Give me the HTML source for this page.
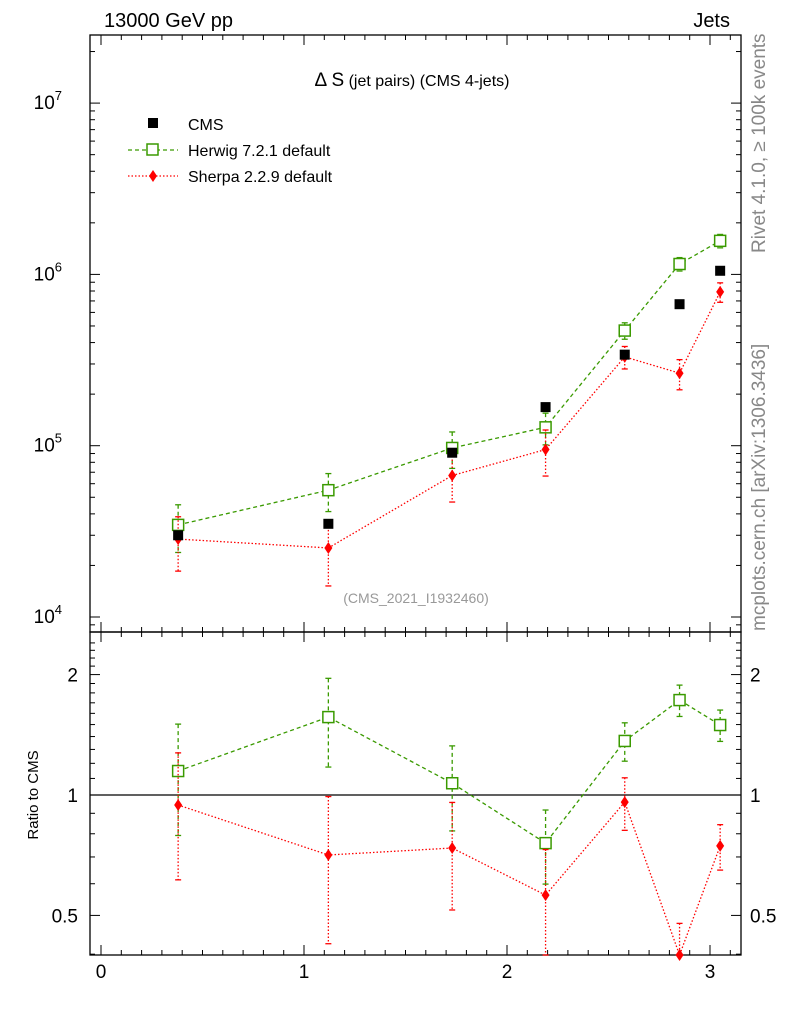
<!DOCTYPE html>
<html><head><meta charset="utf-8"><style>
body{margin:0;background:#fff;font-family:"Liberation Sans",sans-serif}
svg{display:block}
</style></head><body>
<svg id="s" width="786" height="1024" xmlns="http://www.w3.org/2000/svg" font-family="Liberation Sans, sans-serif"></svg>
<script>
const xs=[0.38,1.12,1.73,2.19,2.58,2.85,3.05];
const cmsVals=[3.0e4,3.5e4,9.1e4,1.68e5,3.4e5,6.7e5,1.05e6];
const herwigVals=[3.45e4,5.5e4,9.7e4,1.28e5,4.7e5,1.15e6,1.57e6];
const herwigRelErr=[0.31,0.25,0.24,0.21,0.11,0.09,0.09];
const sherpaVals=[2.85e4,2.53e4,6.7e4,9.5e4,3.3e5,2.65e5,7.9e5];
const sherpaRelErr=[0.35,0.4,0.3,0.3,0.15,0.2,0.13];
const herwigRatio=[1.148,1.566,1.07,0.758,1.365,1.727,1.496];
const sherpaRatio=[0.944,0.708,0.737,0.562,0.96,0.398,0.746];
const xTicks=[0,1,2,3];
const mainTicks=[4,5,6,7];
const ratioTicks=[0.5,1,2];

const S=document.getElementById('s');const NS='http://www.w3.org/2000/svg';
function el(t,a,txt){const e=document.createElementNS(NS,t);for(const k in a)e.setAttribute(k,a[k]);if(txt!==undefined)e.textContent=txt;S.appendChild(e);return e;}
const L=90,R=741,T=35,M=632,B=955;
const X=v=>101+v*203;
const Y=v=>617-(Math.log10(v)-4)*171.3;
const YR=v=>795-Math.log10(v)*400;

let f=el('rect',{x:L,y:T,width:R-L,height:M-T,fill:'none',stroke:'#000','stroke-width':1.3});

f=el('rect',{x:L,y:M,width:R-L,height:B-M,fill:'none',stroke:'#000','stroke-width':1.3});


for(let v=0;v<=3.2;v+=0.1){const x=X(v);if(x<L||x>R)continue;const major=Math.abs(v-Math.round(v))<1e-6;const len=major?10:5;
 [T,M].forEach(y0=>el('line',{x1:x,x2:x,y1:y0,y2:y0+len,stroke:'#000'}));
 [M,B].forEach(y0=>el('line',{x1:x,x2:x,y1:y0,y2:y0-len,stroke:'#000'}));}
xTicks.forEach(v=>{const t=el('text',{x:X(v),y:978,'font-size':19,'text-anchor':'middle'},String(v));});

for(let d=3;d<=7;d++)for(let m=1;m<10;m++){const v=m*Math.pow(10,d);const y=Y(v);if(y<T||y>M)continue;const len=m==1?10:5;
 el('line',{x1:L,x2:L+len,y1:y,y2:y,stroke:'#000'});el('line',{x1:R,x2:R-len,y1:y,y2:y,stroke:'#000'});}
mainTicks.forEach(p=>{const t=el('text',{x:62,y:Y(Math.pow(10,p))+6,'font-size':19,'text-anchor':'end'},'10');
 const s=el('tspan',{dy:-9,'font-size':13});s.textContent=p;t.appendChild(s);});

for(let v=0.4;v<=2.5;v+=0.1){const y=YR(v);if(y<M||y>B)continue;const maj=[0.5,1,2].some(q=>Math.abs(q-v)<1e-6);const len=maj?10:5;
 el('line',{x1:L,x2:L+len,y1:y,y2:y,stroke:'#000'});el('line',{x1:R,x2:R-len,y1:y,y2:y,stroke:'#000'});}
ratioTicks.forEach(v=>{let t=el('text',{x:78,y:YR(v)+7,'font-size':19,'text-anchor':'end'},String(v));
 t=el('text',{x:750,y:YR(v)+7,'font-size':19},String(v));});
let ln=el('line',{x1:L,x2:R,y1:YR(1),y2:YR(1),stroke:'#000','stroke-width':1.3});

function txt(x,y,s,size,attrs,name){const t=el('text',Object.assign({x,y,'font-size':size},attrs||{}),s);return t;}
txt(104,27,'13000 GeV pp',20,{},'title-left');
txt(730,27,'Jets',20,{'text-anchor':'end'},'title-right');
let tt=txt(412,86,'',19,{'text-anchor':'middle'},'plot-title');
['Δ S',' (jet pairs) (CMS 4-jets)'].forEach((s,i)=>{const sp=document.createElementNS(NS,'tspan');sp.setAttribute('font-size',i?16:19);sp.textContent=s;tt.appendChild(sp);});
txt(416,603,'(CMS_2021_I1932460)',14,{'text-anchor':'middle',fill:'#999'},'analysis-id');
txt(0,0,'Rivet 4.1.0, ≥ 100k events',19,{fill:'#888',transform:'translate(765,253) rotate(-90)'},'rivet-label');
txt(0,0,'mcplots.cern.ch [arXiv:1306.3436]',19,{fill:'#888',transform:'translate(765,631) rotate(-90)'},'mcplots-label');
txt(0,0,'Ratio to CMS',15,{'text-anchor':'middle',transform:'translate(38,795) rotate(-90)'},'ratio-y-axis-title');

let g;
g=el('rect',{x:148,y:118,width:10,height:10,fill:'#000'});
txt(188,130,'CMS',16,{},'legend-cms');
el('line',{x1:128,x2:178,y1:150,y2:150,stroke:'#3a9a00','stroke-width':1.3,'stroke-dasharray':'4,3'});
g=el('rect',{x:147,y:144,width:11,height:11,fill:'#fff',stroke:'#3a9a00','stroke-width':1.5});
txt(188,156,'Herwig 7.2.1 default',16,{},'legend-herwig');
el('line',{x1:128,x2:178,y1:176,y2:176,stroke:'#f00','stroke-width':1.3,'stroke-dasharray':'1.5,2'});
g=el('path',{d:'M153,170 L157,176 L153,182 L149,176 Z',fill:'#f00'});
txt(188,182,'Sherpa 2.2.9 default',16,{},'legend-sherpa');

function series(vals,Yf,col,dash,kind,errs,name){
 const pts=vals.map((v,i)=>X(xs[i])+','+Yf(v)).join(' ');
 const p=el('polyline',{points:pts,fill:'none',stroke:col,'stroke-width':1.3,'stroke-dasharray':dash});
 vals.forEach((v,i)=>{const x=X(xs[i]);const y=Yf(v);
  if(errs){const y1=Yf(v*(1+errs[i])),y2=Yf(Math.max(v*(1-errs[i]),1e-9));
   const e=el('line',{x1:x,x2:x,y1:Math.max(y1,0),y2:Math.min(y2,1024),stroke:col,'stroke-width':1.3,'stroke-dasharray':dash});
   el('line',{x1:x-3,x2:x+3,y1:y1,y2:y1,stroke:col,'stroke-width':1.3});el('line',{x1:x-3,x2:x+3,y1:y2,y2:y2,stroke:col,'stroke-width':1.3});}
  let m;
  if(kind=='sq')m=el('rect',{x:x-5.5,y:y-5.5,width:11,height:11,fill:'#fff',stroke:col,'stroke-width':1.5});
  else m=el('path',{d:`M${x},${y-6} L${x+4},${y} L${x},${y+6} L${x-4},${y} Z`,fill:col});
  });
}
series(herwigVals,Y,'#3a9a00','4,3','sq',herwigRelErr,'herwig');
series(sherpaVals,Y,'#f00','1.5,2','dm',sherpaRelErr,'sherpa');
cmsVals.forEach((v,i)=>{const r=el('rect',{x:X(xs[i])-5,y:Y(v)-5,width:10,height:10,fill:'#000'});});
const clipY=v=>Math.min(Math.max(YR(v),M),B);
series(herwigRatio,clipY,'#3a9a00','4,3','sq',herwigRelErr,'herwig-ratio');
series(sherpaRatio,clipY,'#f00','1.5,2','dm',sherpaRelErr,'sherpa-ratio');
</script>
</body></html>
